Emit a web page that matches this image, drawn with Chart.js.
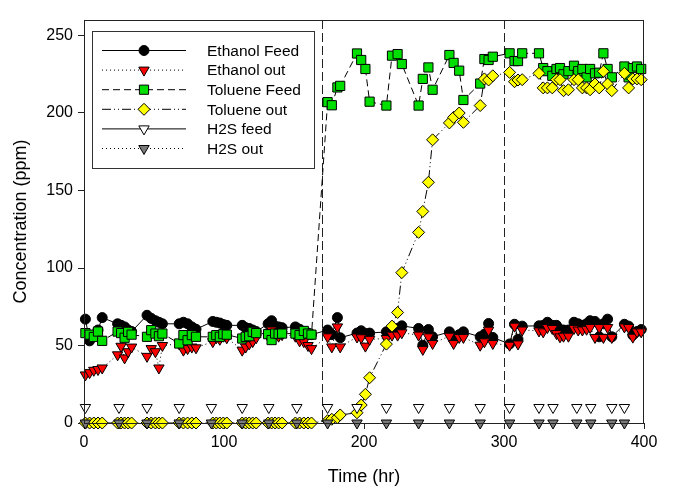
<!DOCTYPE html>
<html>
<head>
<meta charset="utf-8">
<script src="https://cdn.jsdelivr.net/npm/chart.js@4.4.1/dist/chart.umd.min.js"></script>
<style>
  html, body { margin: 0; padding: 0; background: #fff; }
  #wrap { width: 674px; height: 486px; }
</style>
</head>
<body>
<div id="wrap"><canvas id="concChart" width="674" height="486"></canvas></div>
<script>
// sampling times (hr) shared by the ethanol / toluene measurements
const sampleTime = [
  1, 4, 7, 10, 13,
  24, 26.5, 29, 31.5, 34,
  45, 48, 51, 53.5, 56,
  68, 71, 74, 77, 80,
  92, 94.5, 97, 99.5, 102,
  113, 115.5, 118, 120.5, 123,
  131.5, 134, 136.5, 139, 141.5,
  151, 154, 157, 160, 162.5,
  174, 177, 181, 183,
  195, 198, 201, 204,
  216, 220, 224, 227,
  239, 242, 246, 249,
  261, 264, 268, 271,
  283, 286, 289, 292,
  304, 307.5, 310, 313,
  325, 328, 331, 334.5, 337.5, 340, 342.5, 346,
  350, 353, 356, 359, 361.5, 365, 368, 371, 374, 377,
  386, 389, 392, 395, 398
];

const ethanolFeed = [
  67, 53, 56, 60, 68,
  64, 63, 62, 60, 59,
  69.5, 67.5, 66, 65, 64,
  64, 65, 64, 62, 60.5,
  65.5, 65, 64.5, 63.5, 63,
  63, 61.5, 61, 60, 59,
  64, 66, 62.5, 62, 61.5,
  62, 60.5, 59, 58, 57,
  60, 57, 68, 55,
  58, 59.5, 57.7, 58,
  58.8, 60, 61, 62.7,
  61, 50.2, 60.3, 55.6,
  58.8, 55.6, 57, 58.8,
  55.6, 57.3, 64.2, 55.2,
  51, 63.7, 54, 62.5,
  62.7, 63, 65, 63, 63, 60.3, 60, 60,
  65, 64, 63, 64, 66, 65.5, 55.6, 64, 67, 55.6,
  63.7, 62.5, 56.7, 59, 60.3
];

const ethanolOut = [
  31, 32.5, 34, 34.5, 35.5,
  44, 49.5, 42, 46, 49,
  43, 48, 46, 35.5, 50,
  51, 47, 48, 49, 48.5,
  52.5, 55, 54, 56, 55,
  47, 49, 51, 52.5, 55,
  56, 60, 57, 56, 57,
  56, 53, 52.5, 50, 48,
  55.6, 49.1, 62, 49.1,
  55.5, 55, 49.6, 54,
  54.5, 56.7, 56.7, 58.2,
  56.7, 47.5, 55.6, 51.3,
  56, 51.3, 55.2, 55.2,
  50.2, 52.4, 59.9, 51.3,
  50.2, 62.5, 51, 60,
  59.4, 58.8, 61.6, 61, 57.7, 55.6, 56, 56,
  61, 60, 60, 60.5, 61.6, 55.2, 61.6, 55.2, 61.6, 55.2,
  62, 61.6, 55.4, 58.8, 58.8
];

const tolueneFeed = [
  58, 57, 55.5, 59, 53,
  59, 58, 55, 58.8, 57,
  55.6, 59.9, 57.7, 56, 57.7,
  51.3, 56.7, 53.4, 56.7, 55.6,
  55.6, 56.7, 55.6, 57.3, 57,
  54.5, 55.6, 56, 58.8, 58,
  57.3, 53.5, 57.7, 57.5, 57.7,
  57.7, 56.7, 59.4, 57.7, 57,
  207, 205, 216.5, 217.5,
  238.4, 234.2, 228.4, 207.3,
  204.8, 237, 238, 231.6,
  204.8, 222, 229.4, 215,
  237.4, 232.3, 227.3, 208.4,
  219, 234.8, 234.2, 236.3,
  238.5, 233.5, 233.5, 238.5,
  238.5, 229, 227, 224, 228.4, 229, 225, 227,
  230.5, 227, 228.4, 223, 228.4, 225.6, 226, 238.5, 228.4, 223,
  230, 223, 229, 230, 228.4
];

const tolueneOut = [
  0, 0, 0, 0, 0,
  0, 0, 0, 0, 0,
  0, 0, 0, 0, 0,
  0, 0, 0, 0, 0,
  0, 0, 0, 0, 0,
  0, 0, 0, 0, 0,
  0, 0, 0, 0, 0,
  0, 0, 0, 0, 0,
  1.5, 2.4, 3.4, 5.2,
  6.6, 11.6, 18.5, 29.2,
  50.9, 62.5, 71.3, 97,
  123, 136.5, 155.3, 182.7,
  193.6, 197.2, 200, 194,
  204.8, 222, 221.3, 224,
  226.2, 220.2, 221.3, 221.5,
  225.6, 216.2, 216.2, 216.2, 221.5, 221.5, 214.4, 215,
  221.5, 221.5, 216.2, 216.2, 215, 218.7, 216.2, 226.9, 218.7, 214.4,
  225.6, 216.2, 222, 222, 221.5
];

// H2S is sampled once per run
const h2sTime = [1, 25, 45, 68, 91, 113, 132, 152, 174, 195, 216, 239, 261, 283, 304, 325, 335, 352, 362, 377, 386];
const h2sFeed = [10, 10, 10, 10, 10, 10, 10, 10, 10, 10, 10, 10, 10, 10, 10, 10, 10, 10, 10, 10, 10];
const h2sOut  = [0, 0, 0, 0, 0, 0, 0, 0, 0, 0, 0, 0, 0, 0, 0, 0, 0, 0, 0, 0, 0];

const yTickValues = [0, 50, 100, 150, 200, 250];
const phaseChanges = [170, 300];

const FONT = "'Liberation Sans', Arial, sans-serif";

const pairs = (xs, ys) => xs.map((x, i) => ({ x: x, y: ys[i] }));

function series(label, xs, ys, opts) {
  return Object.assign({
    label: label,
    data: pairs(xs, ys),
    showLine: true,
    borderColor: '#000',
    borderWidth: 1,
    borderDash: [],
    pointBorderColor: '#000',
    pointBorderWidth: 1,
    pointRotation: 0,
    tension: 0,
    clip: false
  }, opts);
}

const datasets = [
  series('Ethanol Feed', sampleTime, ethanolFeed, { pointStyle: 'circle', pointRadius: 5, pointBackgroundColor: '#000', order: 6 }),
  series('Ethanol out', sampleTime, ethanolOut, { borderDash: [1, 3], pointStyle: 'triangle', pointRotation: 180, pointRadius: 6, pointBackgroundColor: '#ff0000', order: 5 }),
  series('Toluene Feed', sampleTime, tolueneFeed, { borderDash: [7, 4], pointStyle: 'rect', pointRadius: 6.5, pointBackgroundColor: '#00e000', order: 4 }),
  series('Toluene out', sampleTime, tolueneOut, { borderDash: [9, 3, 1, 3, 1, 3], pointStyle: 'rectRot', pointRadius: 6, pointBackgroundColor: '#ffff00', order: 3 }),
  series('H2S feed', h2sTime, h2sFeed, { showLine: false, legendDash: [], pointStyle: 'triangle', pointRotation: 180, pointRadius: 6, pointBackgroundColor: '#fff', order: 2 }),
  series('H2S out', h2sTime, h2sOut, { showLine: false, legendDash: [1, 3], pointStyle: 'triangle', pointRotation: 180, pointRadius: 6, pointBackgroundColor: '#7a7a7a', order: 1 })
];

// dashed phase lines, the closed frame and the boxed legend
const plotExtras = {
  id: 'plotExtras',
  beforeDatasetsDraw(chart) {
    const { ctx, chartArea, scales } = chart;
    ctx.save();
    ctx.strokeStyle = '#222';
    ctx.lineWidth = 1;
    ctx.setLineDash([9, 4]);
    phaseChanges.forEach(t => {
      const px = Math.round(scales.x.getPixelForValue(t)) + 0.5;
      ctx.beginPath();
      ctx.moveTo(px, chartArea.top);
      ctx.lineTo(px, chartArea.bottom);
      ctx.stroke();
    });
    ctx.restore();
  },
  afterDatasetsDraw(chart) {
    const { ctx, chartArea } = chart;
    ctx.save();
    ctx.strokeStyle = '#222';
    ctx.lineWidth = 1;
    ctx.setLineDash([]);
    ctx.strokeRect(chartArea.left + 0.5, chartArea.top + 0.5, chartArea.right - chartArea.left - 1, chartArea.bottom - chartArea.top);

    // legend box
    const bx = 92, by = 31, bw = 222, bh = 137;
    ctx.fillStyle = '#fff';
    ctx.fillRect(bx, by, bw, bh);
    ctx.strokeStyle = '#333';
    ctx.strokeRect(bx + 0.5, by + 0.5, bw, bh);

    ctx.font = '15.5px ' + FONT;
    ctx.textBaseline = 'middle';
    ctx.textAlign = 'left';
    chart.data.datasets.forEach((ds, i) => {
      const y = 50.5 + i * 19.6;
      ctx.strokeStyle = '#000';
      ctx.lineWidth = 1;
      ctx.setLineDash(ds.legendDash || ds.borderDash);
      ctx.beginPath();
      ctx.moveTo(102, y);
      ctx.lineTo(186, y);
      ctx.stroke();
      ctx.setLineDash([]);
      ctx.fillStyle = ds.pointBackgroundColor;
      ctx.strokeStyle = '#000';
      Chart.helpers.drawPoint(ctx, {
        pointStyle: ds.pointStyle,
        radius: ds.pointRadius,
        rotation: ds.pointRotation,
        borderWidth: 1
      }, 144, y);
      ctx.fillStyle = '#000';
      ctx.fillText(ds.label, 207, y + 1);
    });
    ctx.restore();
  }
};

new Chart(document.getElementById('concChart'), {
  type: 'scatter',
  data: { datasets: datasets },
  options: {
    responsive: false,
    animation: false,
    layout: { padding: { top: 20, right: 30, left: 0, bottom: 0 } },
    plugins: { legend: { display: false }, tooltip: { enabled: false } },
    scales: {
      x: {
        type: 'linear',
        min: 0,
        max: 400,
        afterFit: s => { s.height = 63; },
        ticks: { stepSize: 100, color: '#000', padding: 4, font: { family: FONT, size: 16 } },
        grid: { drawOnChartArea: false, drawTicks: true, tickLength: 6, color: '#222' },
        border: { display: true, color: '#222' },
        title: { display: true, text: 'Time (hr)', color: '#000', padding: 0, font: { family: FONT, size: 18, lineHeight: 1 } }
      },
      y: {
        type: 'linear',
        min: 0,
        max: 260,
        afterFit: s => { s.width = 84; },
        afterBuildTicks: s => { s.ticks = yTickValues.map(v => ({ value: v })); },
        ticks: { color: '#000', padding: 5, font: { family: FONT, size: 16 } },
        grid: { drawOnChartArea: false, drawTicks: true, tickLength: 6, color: '#222' },
        border: { display: true, color: '#222' },
        title: { display: true, text: 'Concentration (ppm)', color: '#000', padding: { top: 10, bottom: 0 }, font: { family: FONT, size: 18, lineHeight: 1.2 } }
      }
    }
  },
  plugins: [plotExtras]
});
</script>
</body>
</html>
